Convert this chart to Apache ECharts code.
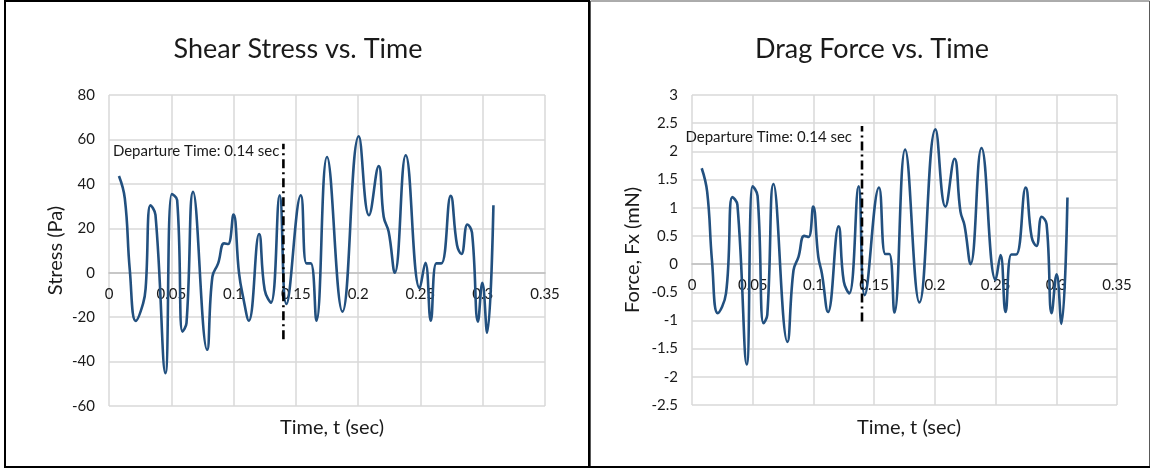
<!DOCTYPE html>
<html>
<head>
<meta charset="utf-8">
<title>Shear Stress and Drag Force vs. Time</title>
<script src="https://cdn.jsdelivr.net/npm/echarts@6/dist/echarts.min.js"></script>
<style>
  html, body { margin: 0; padding: 0; background: #ffffff; }
  #chart { width: 1151px; height: 470px; }
</style>
</head>
<body>
<div id="chart"></div>
<script>
// Wall shear stress (Pa) sampled over time (s)
const stressTime = [0.008, 0.0127, 0.0167, 0.0215, 0.0274, 0.0295, 0.0333, 0.0373, 0.0453, 0.0504,
  0.0547, 0.059, 0.0622, 0.0675, 0.0788, 0.083, 0.0876, 0.0924, 0.0956, 0.0999,
  0.1044, 0.1076, 0.1122, 0.1205, 0.125, 0.130, 0.137, 0.1424, 0.154, 0.1585,
  0.162, 0.1665, 0.175, 0.1874, 0.2005, 0.2087, 0.2165, 0.2205, 0.2245, 0.2294,
  0.2382, 0.2494, 0.254, 0.2583, 0.2628, 0.2668, 0.2743, 0.2794, 0.2829, 0.2877,
  0.2914, 0.2962, 0.2997, 0.3035, 0.3086];
const stressValues = [43.5, 33.4, 1.2, -21.7, -13.8, -6.3, 30.4, 26, -45.2, 35.4,
  32.7, -26.5, -22.7, 36.4, -34.7, -1.8, 4.2, 13.2, 12.9, 26.2,
  -0.3, -10.8, -21.6, 17.4, -7.8, -13.5, 34.9, -14.1, 34.9, 4.2,
  4.2, -21.6, 52.1, -17.5, 61.4, 25.9, 48, 25.2, 18.4, 0,
  52.9, -7, 4.5, -21.6, 4.2, 4.2, 34.6, 12.4, 8.4, 21.7,
  18, -22, -4.5, -27, 30.4];

// Drag force Fx (mN) sampled over time (s)
const forceTime = [0.008, 0.0125, 0.0165, 0.0212, 0.028, 0.0333, 0.0374, 0.0451, 0.050, 0.054,
  0.0589, 0.062, 0.0671, 0.0786, 0.0836, 0.0877, 0.0924, 0.096, 0.0998, 0.104,
  0.107, 0.112, 0.1207, 0.125, 0.1295, 0.1372, 0.1422, 0.154, 0.1592, 0.1625,
  0.1667, 0.1755, 0.1873, 0.2005, 0.2087, 0.2162, 0.2211, 0.2244, 0.2294, 0.2384,
  0.25, 0.2541, 0.2582, 0.263, 0.267, 0.2748, 0.2797, 0.2836, 0.288, 0.292,
  0.2962, 0.3003, 0.3042, 0.3092];
const forceValues = [1.70, 1.28, 0.05, -0.87, -0.52, 1.19, 1.05, -1.78, 1.38, 1.21,
  -1.05, -0.90, 1.42, -1.38, -0.11, 0.13, 0.50, 0.48, 1.02, 0.13,
  -0.17, -0.85, 0.67, -0.31, -0.52, 1.38, -0.55, 1.36, 0.18, 0.18,
  -0.86, 2.03, -0.68, 2.39, 1.02, 1.87, 0.93, 0.69, 0.0, 2.06,
  -0.28, 0.16, -0.85, 0.17, 0.17, 1.36, 0.48, 0.32, 0.84, 0.71,
  -0.87, -0.18, -1.06, 1.18];

// Departure marker: time and vertical extent on each chart
const departureTime = 0.14;
const stressMarkerRange = [-30, 58];
const forceMarkerRange = [-1.02, 2.45];
const departureText = 'Departure Time: 0.14 sec';

// Axis ranges
const timeAxis = { min: 0, max: 0.35, interval: 0.05 };
const stressAxis = { min: -60, max: 80, interval: 20 };
const forceAxis = { min: -2.5, max: 3, interval: 0.5 };

const FONT = 'Lato, "Open Sans", sans-serif';
const TEXT_COLOR = '#1a1a1a';
const LINE_COLOR = '#22507F';
const GRID_COLOR = '#D9D9D9';

function pairs(xs, ys) {
  return xs.map((x, i) => [x, ys[i]]);
}

function markerData(range, text) {
  return [
    [departureTime, range[0]],
    {
      value: [departureTime, range[1]],
      label: { show: true, formatter: text, position: 'left' }
    }
  ];
}

function xAxisFor(gridIndex) {
  return {
    type: 'value', gridIndex,
    min: timeAxis.min, max: timeAxis.max, interval: timeAxis.interval,
    axisLine: { show: true, onZero: false, lineStyle: { color: '#BFBFBF', width: 1.5 } },
    axisTick: { show: false },
    axisLabel: { color: TEXT_COLOR, fontFamily: FONT, fontSize: 15, margin: 14 },
    splitLine: { show: true, lineStyle: { color: GRID_COLOR, width: 1.5 } }
  };
}

function yAxisFor(gridIndex, range, name, gap) {
  return {
    type: 'value', gridIndex,
    min: range.min, max: range.max, interval: range.interval,
    axisLine: { show: false }, axisTick: { show: false },
    axisLabel: { color: TEXT_COLOR, fontFamily: FONT, fontSize: 15, margin: 14 },
    splitLine: { show: true, lineStyle: { color: GRID_COLOR, width: 1.5 } },
    name, nameLocation: 'middle', nameGap: gap,
    nameTextStyle: { color: TEXT_COLOR, fontFamily: FONT, fontSize: 20 }
  };
}

function dataSeries(axisIndex, data) {
  return {
    type: 'line', xAxisIndex: axisIndex, yAxisIndex: axisIndex, data,
    smooth: 0.45, showSymbol: false, symbol: 'none',
    lineStyle: { color: LINE_COLOR, width: 2.6 },
    z: 3
  };
}

function markerSeries(axisIndex, data, offset) {
  return {
    type: 'line', xAxisIndex: axisIndex, yAxisIndex: axisIndex, data,
    showSymbol: true, symbol: 'circle', symbolSize: 0,
    itemStyle: { color: '#000000' },
    lineStyle: { color: '#000000', width: 2.6, type: [9, 4, 2, 4] },
    label: {
      color: TEXT_COLOR, fontFamily: FONT, fontSize: 15,
      offset: offset, distance: 4
    },
    z: 4
  };
}

const titleStyle = { color: TEXT_COLOR, fontFamily: FONT, fontSize: 27, fontWeight: 'normal' };
const axisTitleStyle = { color: TEXT_COLOR, fontFamily: FONT, fontSize: 20, fontWeight: 'normal' };

const chart = echarts.init(document.getElementById('chart'), null, { renderer: 'canvas' });

chart.setOption({
  animation: false,
  backgroundColor: '#ffffff',
  title: [
    { text: 'Shear Stress vs. Time', left: 293, top: 31, textAlign: 'center', textStyle: titleStyle },
    { text: 'Drag Force vs. Time', left: 867, top: 31, textAlign: 'center', textStyle: titleStyle },
    { text: 'Time, t (sec)', left: 327, top: 413, textAlign: 'center', textStyle: axisTitleStyle },
    { text: 'Time, t (sec)', left: 904, top: 413, textAlign: 'center', textStyle: axisTitleStyle }
  ],
  grid: [
    { left: 109, right: 606, top: 95, bottom: 64 },
    { left: 692, right: 34, top: 95, bottom: 65 }
  ],
  xAxis: [xAxisFor(0), xAxisFor(1)],
  yAxis: [
    yAxisFor(0, stressAxis, 'Stress (Pa)', 43),
    yAxisFor(1, forceAxis, 'Force, Fx (mN)', 49)
  ],
  series: [
    dataSeries(0, pairs(stressTime, stressValues)),
    markerSeries(0, markerData(stressMarkerRange, departureText), [0, 7]),
    dataSeries(1, pairs(forceTime, forceValues)),
    markerSeries(1, markerData(forceMarkerRange, departureText), [-6, 11])
  ],
  graphic: [
    { type: 'rect', shape: { x: 5, y: 1, width: 584, height: 466 },
      style: { fill: 'none', stroke: '#000000', lineWidth: 2 }, silent: true },
    { type: 'rect', shape: { x: 590.5, y: 1, width: 559, height: 466 },
      style: { fill: 'none', stroke: '#595959', lineWidth: 1 }, silent: true },
    { type: 'line', shape: { x1: 590, y1: 467, x2: 1150, y2: 467 },
      style: { stroke: '#000000', lineWidth: 2 }, silent: true }
  ]
});

// Move each time axis (line and labels) up to the zero level of its value axis
function zeroOffset(gridIndex, range) {
  const yZero = chart.convertToPixel({ yAxisIndex: gridIndex }, 0);
  const yMin = chart.convertToPixel({ yAxisIndex: gridIndex }, range.min);
  return yZero - yMin;
}
chart.setOption({
  xAxis: [
    { offset: zeroOffset(0, stressAxis) },
    { offset: zeroOffset(1, forceAxis) }
  ]
});
</script>
</body>
</html>
